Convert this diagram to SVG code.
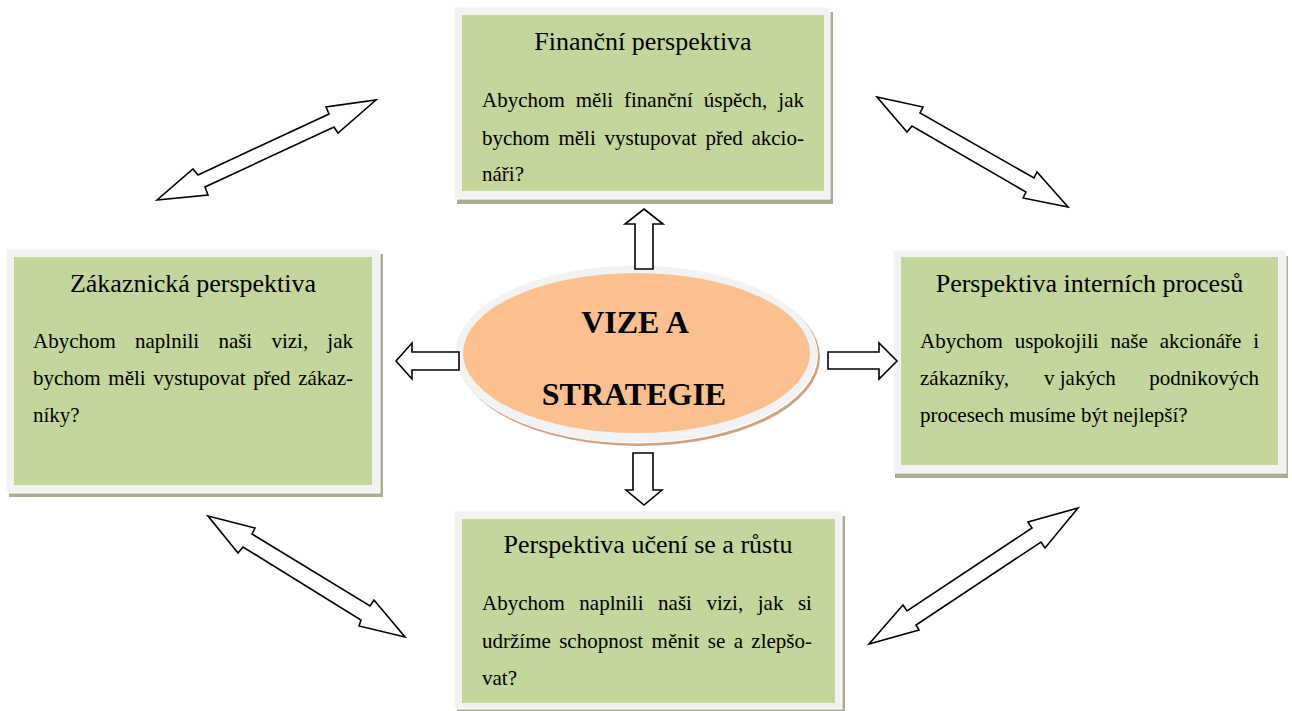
<svg xmlns="http://www.w3.org/2000/svg" width="1292" height="711" viewBox="0 0 1292 711">
<style>
.shadow{fill:#a9ae92}
.frame{fill:#f2f2f2;stroke:#ffffff;stroke-width:1}
.green{fill:#c3d69b}
.t{font-family:"Liberation Serif","Times New Roman",serif;fill:#000}
.title{font-size:26px;text-anchor:middle}
.body{font-size:21px}
.big{font-size:32px;font-weight:bold;text-anchor:middle}
.arr{fill:#ffffff;stroke:#000;stroke-width:1.6;stroke-linejoin:miter}
</style>
<rect width="1292" height="711" fill="#ffffff"/>

<g id="financni">
<rect class="shadow" x="457" y="12" width="376" height="192"/>
<rect class="frame" x="454" y="7" width="376" height="192"/>
<rect class="green" x="462" y="15" width="362" height="176"/>
<text class="t title" x="643" y="50">Finanční perspektiva</text>
<text class="t body" x="482" y="107" word-spacing="5.7">Abychom měli finanční úspěch, jak</text>
<text class="t body" x="482" y="145" word-spacing="3.5">bychom měli vystupovat před akcio-</text>
<text class="t body" x="482" y="181">náři?</text>
</g>

<g id="zakaznicka">
<rect class="shadow" x="9" y="254" width="374" height="243"/>
<rect class="frame" x="6" y="249" width="374" height="244"/>
<rect class="green" x="14" y="257" width="358" height="228"/>
<text class="t title" x="193" y="292">Zákaznická perspektiva</text>
<text class="t body" x="33" y="348" word-spacing="13.95">Abychom naplnili naši vizi, jak</text>
<text class="t body" x="33" y="385" word-spacing="2.43">bychom měli vystupovat před zákaz-</text>
<text class="t body" x="33" y="422">níky?</text>
</g>

<g id="interni">
<rect class="shadow" x="895" y="256" width="393" height="222"/>
<rect class="frame" x="893" y="250" width="393" height="223"/>
<rect class="green" x="901" y="257" width="377" height="208"/>
<text class="t title" x="1089.5" y="292">Perspektiva interních procesů</text>
<text class="t body" x="920" y="348" word-spacing="6.6">Abychom uspokojili naše akcionáře i</text>
<text class="t body" x="920" y="385">zákazníky,</text>
<text class="t body" x="1044" y="385">v jakých</text>
<text class="t body" x="1259" y="385" text-anchor="end">podnikových</text>
<text class="t body" x="920" y="422">procesech musíme být nejlepší?</text>
</g>

<g id="uceni">
<rect class="shadow" x="457" y="516" width="388" height="198"/>
<rect class="frame" x="454" y="511" width="388" height="198"/>
<rect class="green" x="462" y="519" width="373" height="184"/>
<text class="t title" x="648" y="553">Perspektiva učení se a růstu</text>
<text class="t body" x="482" y="610" word-spacing="9.3">Abychom naplnili naši vizi, jak si</text>
<text class="t body" x="482" y="648" word-spacing="3.13">udržíme schopnost měnit se a zlepšo-</text>
<text class="t body" x="482" y="685">vat?</text>
</g>

<g id="vize">
<ellipse cx="639" cy="357" rx="181" ry="89" fill="#cfa283"/>
<ellipse cx="637" cy="355" rx="181" ry="88.5" fill="#ffffff"/>
<ellipse cx="636" cy="354" rx="181" ry="88.5" fill="#f2f2f2"/>
<ellipse cx="636.5" cy="353" rx="173.5" ry="80" fill="#fac090"/>
<text class="t big" x="635" y="333">VIZE A</text>
<text class="t big" x="634" y="405">STRATEGIE</text>
</g>

<g id="connectors">
<polygon class="arr" points="644,209 663,224 653,224 653,269 635,269 635,224 625,224"/>
<polygon class="arr" points="633,453 653,453 653,490 662,490 644,505 626,490 633,490"/>
<polygon class="arr" points="396,361 412,343 412,352 459,352 459,370 412,370 412,379"/>
<polygon class="arr" points="828,352 879,352 879,343 897,361 879,379 879,369 828,369"/>
<polygon class="arr" points="157,200 193,169 198,175 329,114 326,107 376,100 338,133 334,127 205,187 208,195"/>
<polygon class="arr" points="877,97 923,107 920,113 1034,178 1037,172 1068,207 1023,198 1026,192 912,126 907,132"/>
<polygon class="arr" points="208,516 255,528 252,534 370,606 374,600 405,637 359,626 361,620 243,547 238,553"/>
<polygon class="arr" points="869,644 903,605 907,611 1032,528 1028,522 1078,508 1045,548 1041,542 916,625 919,630"/>
</g>
</svg>
